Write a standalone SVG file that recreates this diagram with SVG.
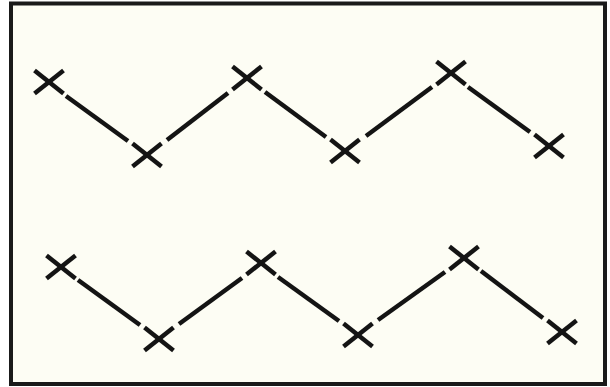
<svg xmlns="http://www.w3.org/2000/svg" width="610" height="387" viewBox="0 0 610 387">
  <defs>
    <style>
      .frame { fill: #fdfdf4; stroke: #1a1a1a; stroke-width: 4; }
      .x { stroke: #141414; stroke-width: 4.5; stroke-linecap: butt; fill: none; }
      .conn line { stroke: #141414; stroke-width: 4.5; stroke-linecap: butt; }
    </style>
    <g id="cross">
      <line class="x" x1="-14.5" y1="-11.5" x2="14.5" y2="11.5"/>
      <line class="x" x1="-14.5" y1="11.5" x2="14.5" y2="-11.5"/>
    </g>
  </defs>
  <rect x="0" y="0" width="610" height="387" fill="#ffffff"/>
  <rect class="frame" x="11" y="3.5" width="594" height="380.5"/>

  <g id="connectors" class="conn">
    <!-- top row -->
    <line x1="66" y1="96" x2="128" y2="141"/>
    <line x1="167" y1="140" x2="228" y2="93"/>
    <line x1="265" y1="92" x2="326" y2="137"/>
    <line x1="366" y1="136" x2="432" y2="87"/>
    <line x1="468" y1="87" x2="530" y2="132"/>
    <!-- bottom row -->
    <line x1="78" y1="280" x2="140" y2="325"/>
    <line x1="179" y1="324" x2="242" y2="278"/>
    <line x1="278" y1="277" x2="339" y2="321"/>
    <line x1="378" y1="320" x2="445" y2="272"/>
    <line x1="481" y1="271" x2="543" y2="318"/>
  </g>

  <g id="top-1"><use href="#cross" x="49" y="82"/></g>
  <g id="top-2"><use href="#cross" x="147" y="155"/></g>
  <g id="top-3"><use href="#cross" x="247" y="78"/></g>
  <g id="top-4"><use href="#cross" x="345" y="151"/></g>
  <g id="top-5"><use href="#cross" x="451" y="73"/></g>
  <g id="top-6"><use href="#cross" x="549" y="146"/></g>

  <g id="bottom-1"><use href="#cross" x="61" y="267"/></g>
  <g id="bottom-2"><use href="#cross" x="159" y="339"/></g>
  <g id="bottom-3"><use href="#cross" x="261" y="263"/></g>
  <g id="bottom-4"><use href="#cross" x="358" y="335"/></g>
  <g id="bottom-5"><use href="#cross" x="464" y="258"/></g>
  <g id="bottom-6"><use href="#cross" x="562" y="332"/></g>
</svg>
